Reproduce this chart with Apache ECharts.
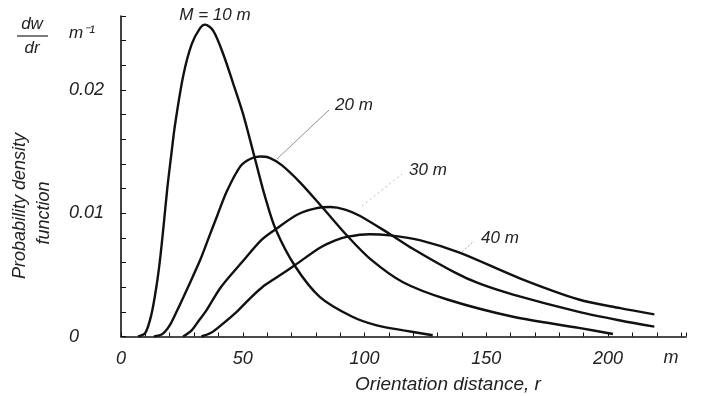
<!DOCTYPE html>
<html>
<head>
<meta charset="utf-8">
<script src="https://cdn.jsdelivr.net/npm/echarts@6/dist/echarts.min.js"></script>
<style>html,body{margin:0;padding:0;background:#fff}#c{width:712px;height:396px}</style>
</head>
<body>
<div id="c"></div>
<script>
// Series: [orientation distance r (m), dw/dr (1/m)]
var m10 = [[7,0],[10,0.0003],[12.5,0.0018],[14.5,0.0040],[16,0.0062],[17.5,0.0090],[19,0.0120],[20.5,0.0145],[22.2,0.0172],[25.6,0.0212],[29,0.0237],[32.4,0.0250],[34.5,0.0253],[37.9,0.0248],[42,0.0229],[46.1,0.0205],[50.2,0.0180],[54.9,0.0145],[59.2,0.0113],[63.5,0.0087],[71.5,0.0057],[81.7,0.0032],[95,0.0016],[105,0.0009],[116,0.0005],[128,0.0001]];
var m20 = [[13.5,0],[17,0.0002],[20,0.0009],[22.8,0.0020],[27.5,0.0040],[32.5,0.0062],[36,0.0080],[39.5,0.0098],[43.5,0.0118],[49,0.0138],[53,0.0144],[57,0.0146],[61,0.0145],[66,0.0139],[73.5,0.0125],[83,0.0104],[93.2,0.0081],[102.3,0.0063],[115.8,0.0044],[134,0.0030],[161,0.0016],[188,0.0007],[202,0.0002]];
var m30 = [[25.5,0],[29,0.0005],[32,0.0013],[35,0.0021],[41,0.0040],[50,0.0061],[57.5,0.0078],[63.5,0.0087],[72.5,0.0099],[80,0.0104],[86,0.0105],[92,0.0103],[98,0.0098],[110.5,0.0083],[120,0.0071],[137,0.0052],[147,0.0043],[161,0.0034],[188,0.0020],[205,0.0013],[219,0.0008]];
var m40 = [[33,0],[37,0.0003],[41,0.0009],[47.5,0.0020],[53,0.0031],[58,0.0040],[64,0.0048],[71.5,0.0058],[81.7,0.0072],[88,0.0078],[93,0.0081],[102,0.0083],[110.5,0.0082],[123,0.0078],[139,0.0068],[164,0.0047],[188,0.0030],[205,0.0023],[219,0.0018]];
var seriesNames = ['M = 10 m','20 m','30 m','40 m'];
var xTickLabels = [0,50,100,150,200];
var yTickLabels = [0,0.01,0.02];

var FONT = 'Liberation Sans';
var chart = echarts.init(document.getElementById('c'), null, {renderer:'canvas'});
function lineSeries(name, data){
  return {name:name, type:'line', data:data, smooth:0.3, showSymbol:false,
    lineStyle:{color:'#111', width:2.4}, z:3};
}
var txt = {fontFamily:FONT, fontStyle:'italic', fill:'#222'};
function T(x,y,s,size,extra){
  var st = Object.assign({}, txt, {text:s, fontSize:size, textAlign:'center', textVerticalAlign:'middle'});
  var o = {type:'text', x:x, y:y, style:st, z:10};
  if (extra) Object.assign(o, extra);
  return o;
}
chart.setOption({
  animation:false,
  backgroundColor:'#fff',
  grid:{left:121, right:26, top:16, bottom:59.5},
  xAxis:{type:'value', min:0, max:232, interval:10,
    axisLine:{lineStyle:{color:'#111', width:1.6}},
    axisTick:{inside:true, length:4, lineStyle:{color:'#111'}},
    splitLine:{show:false},
    axisLabel:{margin:13, color:'#222', fontFamily:FONT, fontStyle:'italic', fontSize:18,
      formatter:function(v){ return xTickLabels.indexOf(v) >= 0 ? String(v) : ''; }}
  },
  yAxis:{type:'value', min:0, max:0.026, interval:0.002,
    axisLine:{show:true, lineStyle:{color:'#111', width:1.6}},
    axisTick:{show:true, inside:true, length:5, lineStyle:{color:'#111'}},
    splitLine:{show:false},
    axisLabel:{align:'left', margin:52, color:'#222', fontFamily:FONT, fontStyle:'italic', fontSize:18,
      formatter:function(v){
        for (var i=0;i<yTickLabels.length;i++){ if (Math.abs(v-yTickLabels[i])<1e-9) return yTickLabels[i]===0?'0':yTickLabels[i].toFixed(2); }
        return '';
      }}
  },
  series:[lineSeries(seriesNames[0],m10),lineSeries(seriesNames[1],m20),lineSeries(seriesNames[2],m30),lineSeries(seriesNames[3],m40)],
  graphic:[
    T(215,15,'M = 10 m',17),
    T(354,105,'20 m',17),
    T(428,170,'30 m',17),
    T(500,238,'40 m',17),
    {type:'line', shape:{x1:277,y1:159,x2:329,y2:110}, style:{stroke:'#777', lineWidth:0.8}, z:10},
    {type:'line', shape:{x1:362,y1:206,x2:402,y2:174}, style:{stroke:'#aaa', lineWidth:0.8, lineDash:[2,3]}, z:10},
    {type:'line', shape:{x1:462,y1:252,x2:474,y2:241}, style:{stroke:'#888', lineWidth:0.8, lineDash:[2,2]}, z:10},
    T(671,358,'m',18),
    T(448,385,'Orientation distance, r',19),
    T(32,24,'dw',17),
    {type:'line', shape:{x1:17,y1:36,x2:48,y2:36}, style:{stroke:'#222', lineWidth:1.2}, z:10},
    T(32,48,'dr',17),
    T(82,33,'m⁻¹',17),
    T(20,206,'Probability density',18,{rotation:Math.PI/2}),
    T(44,213,'function',18,{rotation:Math.PI/2})
  ]
});
</script>
</body>
</html>
